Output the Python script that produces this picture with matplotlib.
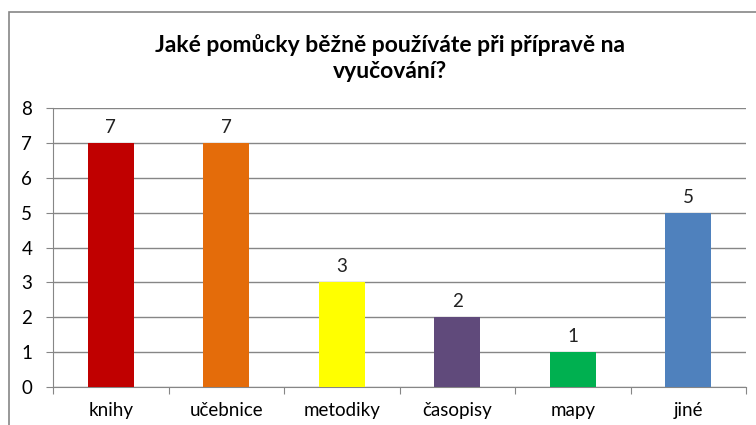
import matplotlib.pyplot as plt
from matplotlib.patches import Rectangle

categories = ['knihy', 'učebnice', 'metodiky', 'časopisy', 'mapy', 'jiné']
values = [7, 7, 3, 2, 1, 5]
colors = ['#C00000', '#E46C0A', '#FFFF00', '#604A7B', '#00B050', '#4F81BD']

plt.rcParams['font.family'] = ['Lato', 'DejaVu Sans']

fig = plt.figure(figsize=(7.56, 4.25), dpi=100)

# rámeček grafu
fig.patches.append(Rectangle((9 / 756, -0.1), 1.2, 1 - 12 / 425 + 0.1,
                             transform=fig.transFigure, fill=False,
                             edgecolor='#868686', linewidth=1.2))

ax = fig.add_axes([53 / 756, 1 - 387 / 425, 693 / 756, 279 / 425])
x = range(len(categories))
bars = ax.bar(x, values, width=0.4, color=colors, zorder=3)
for xi, v in zip(x, values):
    ax.text(xi, v + 0.2, str(v), ha='center', va='bottom', fontsize=13.5, color='#222222')

ax.set_xlim(-0.5, len(categories) - 0.5)
ax.set_ylim(0, 8)
ax.set_yticks(range(0, 9))
ax.set_xticks([i - 0.5 for i in range(len(categories) + 1)], minor=False)
ax.set_xticklabels([])
ax.set_xticks(list(x), minor=True)
ax.set_xticklabels(categories, minor=True, fontsize=13.5)
ax.tick_params(axis='x', which='minor', length=0, pad=11)
ax.tick_params(axis='x', which='major', length=5, color='#868686')
ax.tick_params(axis='y', length=5, color='#868686', labelsize=13.5, pad=10)

ax.grid(axis='y', color='#868686', linewidth=1, zorder=0)
for s in ['top', 'right']:
    ax.spines[s].set_visible(False)
ax.spines['left'].set_color('#868686')
ax.spines['bottom'].set_color('#868686')

fig.text(390 / 756, 1 - 58 / 425,
         'Jaké pomůcky běžně používáte při přípravě na\nvyučování?',
         ha='center', va='center', fontsize=16.5, fontweight='bold',
         linespacing=1.25)

fig.savefig('out.png', dpi=100)
